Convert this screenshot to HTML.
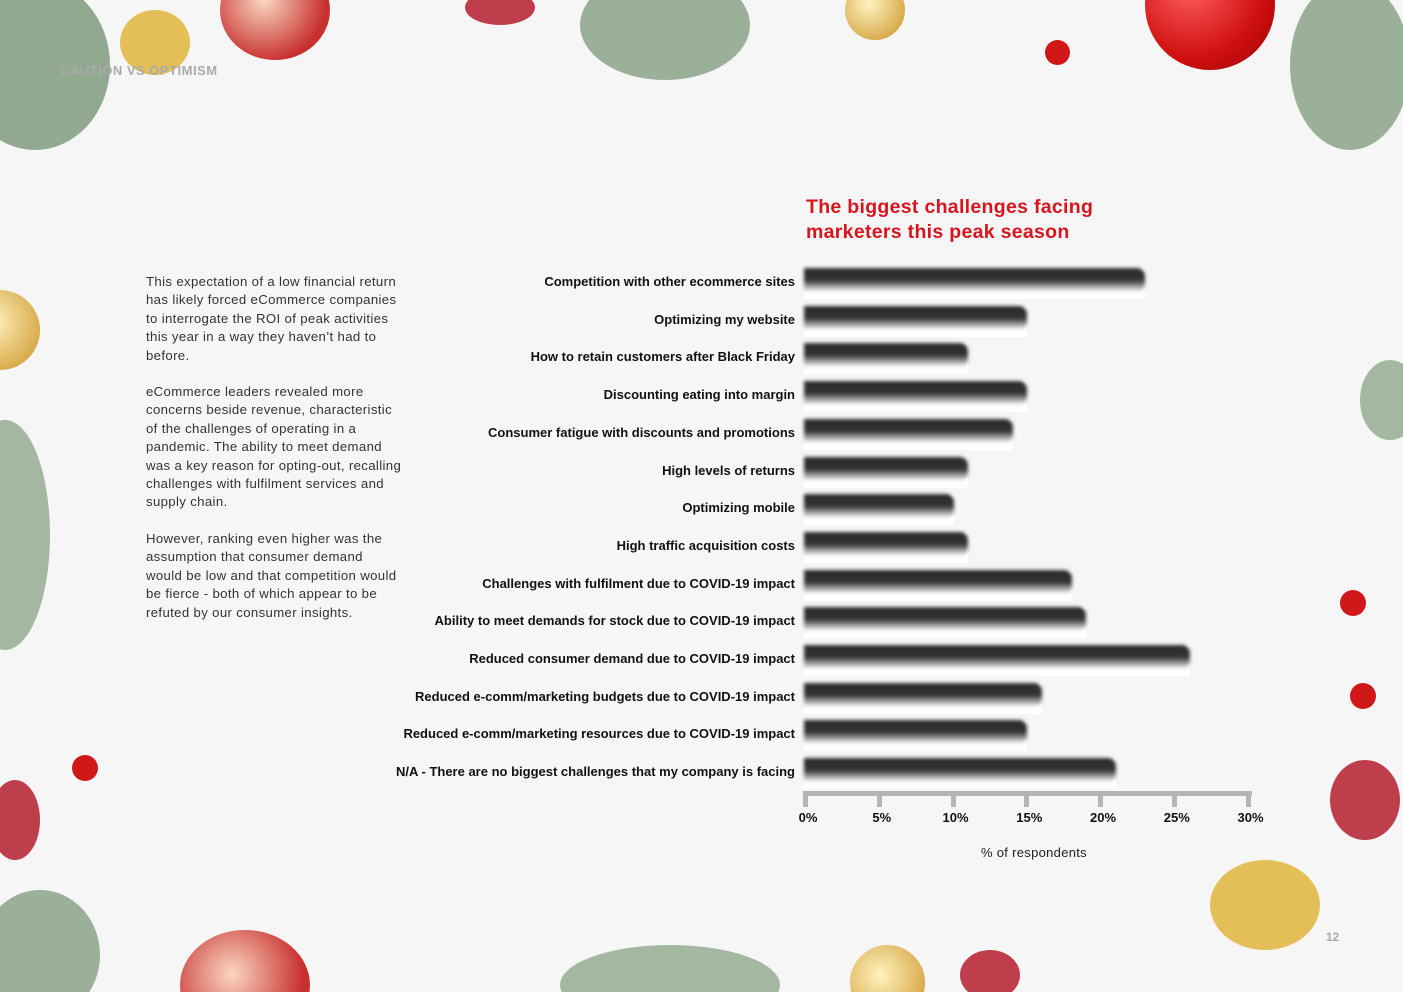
<!DOCTYPE html>
<html style="overflow:hidden"><head><meta charset="utf-8"><style>
html,body{margin:0;width:1403px;height:992px;overflow:hidden}
body{background:#f6f6f6;font-family:"Liberation Sans",sans-serif;position:relative}
.abs{position:absolute}
.txt{left:146px;width:290px;font-size:13.2px;line-height:18.4px;color:#333;letter-spacing:0.35px;white-space:nowrap}
.lbl{position:absolute;right:608px;font-size:13px;font-weight:bold;color:#111;white-space:nowrap}
.bar{position:absolute;left:804px;height:31px;background:#fff}
.bar i{position:absolute;left:0;top:0;right:0;height:24px;background:linear-gradient(#2a2a2a 0%,#333 50%,rgba(60,60,60,0) 100%);border-radius:0 8px 8px 0;filter:blur(1.8px)}
.tick{position:absolute;top:791px;width:5px;height:16px;background:#b5b5b5}
.tl{position:absolute;top:810px;font-size:13px;font-weight:bold;color:#111;transform:translateX(-50%)}
.orn{position:absolute;border-radius:50%}
</style></head><body>
<div style="position:absolute;left:0;top:0;width:1403px;height:992px;overflow:hidden">
<div class="orn" style="left:1145px;top:-60px;width:130px;height:130px;background:radial-gradient(circle at 35% 35%,#ff6060,#d01010 60%,#900 100%)"></div>
<div class="orn" style="left:220px;top:-40px;width:110px;height:100px;background:radial-gradient(circle at 40% 40%,#f9d7c0,#c83030 70%)"></div>
<div class="orn" style="left:845px;top:-20px;width:60px;height:60px;background:radial-gradient(circle at 40% 40%,#fff2c0,#d4a440 80%)"></div>
<div class="orn" style="left:-40px;top:290px;width:80px;height:80px;background:radial-gradient(circle at 40% 40%,#fff2c0,#d4a440 80%)"></div>
<div class="orn" style="left:180px;top:930px;width:130px;height:110px;background:radial-gradient(circle at 40% 40%,#f9d7c0,#c83030 70%)"></div>
<div class="orn" style="left:850px;top:945px;width:75px;height:75px;background:radial-gradient(circle at 40% 40%,#fff2c0,#d4a440 80%)"></div>
<div class="orn" style="left:1045px;top:40px;width:25px;height:25px;background:#d01818"></div>
<div class="orn" style="left:1340px;top:590px;width:26px;height:26px;background:#d01818"></div>
<div class="orn" style="left:1350px;top:683px;width:26px;height:26px;background:#d01818"></div>
<div class="orn" style="left:72px;top:755px;width:26px;height:26px;background:#d01818"></div>
<div class="orn" style="left:1330px;top:760px;width:70px;height:80px;background:#b01020;opacity:.8"></div>
<div class="orn" style="left:-10px;top:780px;width:50px;height:80px;background:#b01020;opacity:.8"></div>
<div class="orn" style="left:960px;top:950px;width:60px;height:50px;background:#b01020;opacity:.8"></div>
<div class="orn" style="left:465px;top:-10px;width:70px;height:35px;background:#b01020;opacity:.8"></div>
<div class="orn" style="left:-40px;top:-20px;width:150px;height:170px;background:#3d6a3a;opacity:.55"></div>
<div class="orn" style="left:580px;top:-30px;width:170px;height:110px;background:#3d6a3a;opacity:.5"></div>
<div class="orn" style="left:1290px;top:-20px;width:120px;height:170px;background:#3d6a3a;opacity:.5"></div>
<div class="orn" style="left:-40px;top:420px;width:90px;height:230px;background:#3d6a3a;opacity:.45"></div>
<div class="orn" style="left:-20px;top:890px;width:120px;height:130px;background:#3d6a3a;opacity:.5"></div>
<div class="orn" style="left:1360px;top:360px;width:60px;height:80px;background:#3d6a3a;opacity:.45"></div>
<div class="orn" style="left:560px;top:945px;width:220px;height:80px;background:#3d6a3a;opacity:.45"></div>
<div class="orn" style="left:1210px;top:860px;width:110px;height:90px;background:#e0b030;opacity:.8"></div>
<div class="orn" style="left:120px;top:10px;width:70px;height:65px;background:#e0b030;opacity:.8"></div>
</div>
<div class="abs" style="left:60px;top:63px;font-size:13px;font-weight:bold;color:#aaa;letter-spacing:.5px">CAUTION VS OPTIMISM</div>
<div class="abs txt" style="top:273px">
<p style="margin:0 0 18px">This expectation of a low financial return<br>has likely forced eCommerce companies<br>to interrogate the ROI of peak activities<br>this year in a way they haven’t had to<br>before.</p>
<p style="margin:0 0 18px">eCommerce leaders revealed more<br>concerns beside revenue, characteristic<br>of the challenges of operating in a<br>pandemic. The ability to meet demand<br>was a key reason for opting-out, recalling<br>challenges with fulfilment services and<br>supply chain.</p>
<p style="margin:0">However, ranking even higher was the<br>assumption that consumer demand<br>would be low and that competition would<br>be fierce - both of which appear to be<br>refuted by our consumer insights.</p>
</div>
<div class="abs" style="left:806px;top:195px;font-size:19.5px;font-weight:bold;color:#d8141e;line-height:25px;letter-spacing:.3px">The biggest challenges facing<br>marketers this peak season</div>
<div id="chart"></div>
<div class="abs" style="left:804px;top:791px;width:448px;height:5px;background:#b5b5b5"></div>
<div class="abs" style="left:981px;top:845px;font-size:13px;color:#222;letter-spacing:.3px">% of respondents</div>
<div class="abs" style="left:1326px;top:930px;font-size:12px;font-weight:bold;color:#aaa">12</div>
<script>
const categories=["Competition with other ecommerce sites","Optimizing my website","How to retain customers after Black Friday","Discounting eating into margin","Consumer fatigue with discounts and promotions","High levels of returns","Optimizing mobile","High traffic acquisition costs","Challenges with fulfilment due to COVID-19 impact","Ability to meet demands for stock due to COVID-19 impact","Reduced consumer demand due to COVID-19 impact","Reduced e-comm/marketing budgets due to COVID-19 impact","Reduced e-comm/marketing resources due to COVID-19 impact","N/A - There are no biggest challenges that my company is facing"];
const values=[23,15,11,15,14,11,10,11,18,19,26,16,15,21];
const ticks=[0,5,10,15,20,25,30];
const tickLabels=["0%","5%","10%","15%","20%","25%","30%"];
const x0=806,pxPer=14.75,y0=268,step=37.7;
const xs=v=>x0+v*pxPer;
const c=document.getElementById('chart');
categories.forEach((cat,i)=>{
  const y=y0+i*step;
  const l=document.createElement('div');l.className='lbl';l.style.top=(y+6)+'px';l.textContent=cat;
  
  
  c.appendChild(l);
  const b=document.createElement('div');b.className='bar';b.style.top=y+'px';b.style.width=(xs(values[i])-804)+'px';
  
  
  b.appendChild(document.createElement('i'));
  c.appendChild(b);
});
ticks.forEach((t,i)=>{
  const k=document.createElement('div');k.className='tick';k.style.left=(xs(t)-3)+'px';
  
  
  c.appendChild(k);
  const tl=document.createElement('div');tl.className='tl';tl.style.left=(xs(t)+2)+'px';tl.textContent=tickLabels[i];
  
  
  c.appendChild(tl);
});
</script>
</body></html>
